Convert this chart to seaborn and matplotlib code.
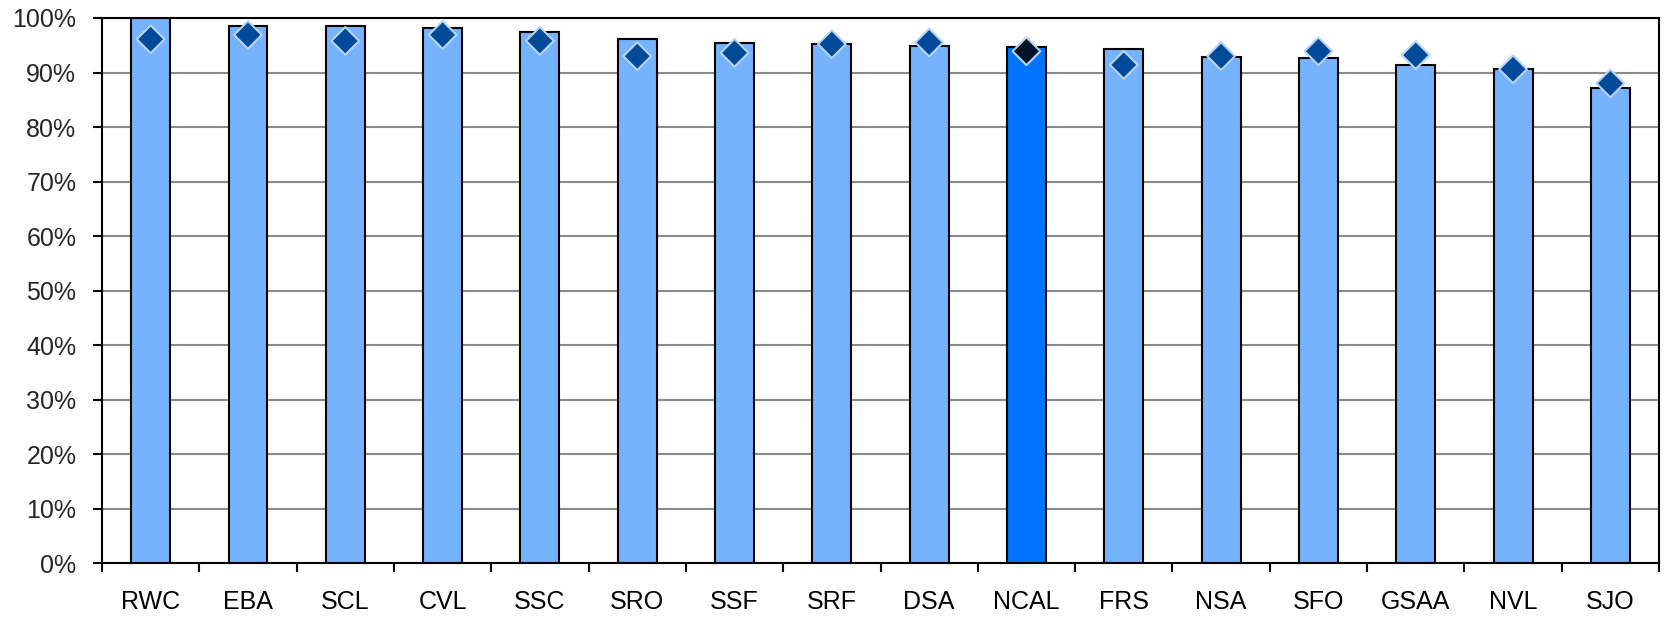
import matplotlib
matplotlib.use("Agg")
import matplotlib.pyplot as plt
import seaborn as sns
import pandas as pd
import numpy as np
from matplotlib.ticker import FixedLocator, PercentFormatter

categories = ["RWC", "EBA", "SCL", "CVL", "SSC", "SRO", "SSF", "SRF", "DSA",
              "NCAL", "FRS", "NSA", "SFO", "GSAA", "NVL", "SJO"]
bar_values = [100.0, 98.5, 98.5, 98.1, 97.5, 96.1, 95.5, 95.2, 94.9,
              94.6, 94.3, 92.9, 92.6, 91.3, 90.6, 87.1]
diamond_values = [96.1, 96.9, 95.8, 96.9, 95.8, 93.0, 93.6, 95.2, 95.5,
                  93.9, 91.4, 93.0, 93.9, 93.2, 90.6, 88.0]
highlight = "NCAL"
y_ticks = list(range(0, 101, 10))

df = pd.DataFrame({"cat": categories, "bar": bar_values, "dia": diamond_values})

sns.set_theme(style="white")
plt.rcParams["font.family"] = ["Liberation Sans", "DejaVu Sans"]

fig = plt.figure(figsize=(16.64, 6.18), dpi=100)
ax = fig.add_axes([0.0613, 0.0885, 0.9357, 0.8824])

bar_pal = {c: ("#0073FF" if c == highlight else "#75B2FF") for c in categories}
dia_pal = {c: ("#001428" if c == highlight else "#004A99") for c in categories}

sns.barplot(data=df, x="cat", y="bar", hue="cat", palette=bar_pal, legend=False,
            saturation=1, width=0.4, edgecolor="black", linewidth=1.5, ax=ax, zorder=2)
sns.scatterplot(data=df, x="cat", y="dia", hue="cat", palette=dia_pal, legend=False,
                marker="D", s=200, edgecolor="#B8D4F2", linewidth=1.5, ax=ax, zorder=3,
                clip_on=False)

ax.set_xlim(-0.5, len(categories) - 0.5)
ax.set_ylim(0, 100)
ax.yaxis.set_major_locator(FixedLocator(y_ticks))
ax.yaxis.set_major_formatter(PercentFormatter(decimals=0))
ax.grid(axis="y", color="#8A8A8A", linewidth=1.5, zorder=0)
ax.set_axisbelow(True)
ax.set_xlabel("")
ax.set_ylabel("")

ax.xaxis.set_minor_locator(FixedLocator(np.arange(-0.5, len(categories), 1.0)))
ax.tick_params(axis="x", which="major", length=0, pad=19, labelsize=18, colors="black")
ax.tick_params(axis="x", which="minor", bottom=True, length=6.5, width=1.5, color="black")
ax.tick_params(axis="y", which="major", left=True, length=6.5, width=1.5, color="black",
               labelsize=18, pad=12)
for s in ax.spines.values():
    s.set_visible(True)
    s.set_color("black")
    s.set_linewidth(1.5)

fig.savefig("out.png", dpi=100)
